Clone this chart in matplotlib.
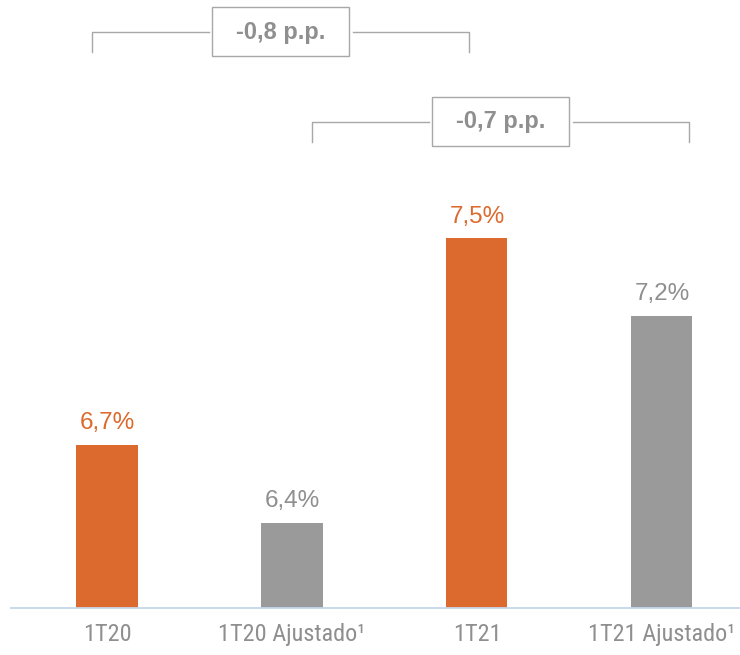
import matplotlib.pyplot as plt
from matplotlib.patches import Rectangle
from matplotlib import font_manager as fm

# data
categories = ['1T20', '1T20 Ajustado¹', '1T21', '1T21 Ajustado¹']
values = [6.7, 6.4, 7.5, 7.2]
value_labels = ['6,7%', '6,4%', '7,5%', '7,2%']

# comparison brackets: (label, x_left, x_right, y_top, y_bottom)
brackets = [
    ('-0,8 p.p.', -0.08, 1.957, 8.299, 8.222),
    ('-0,7 p.p.', 1.108, 3.146, 7.951, 7.873),
]

ORANGE = '#DC6A2E'
GRAY = '#9A9A9B'
TEXT_GRAY = '#8F8F8F'
BOX_GRAY = '#A8A8A8'
colors = [ORANGE, GRAY, ORANGE, GRAY]

# narrow font for the category labels, if one is installed
names = {f.name for f in fm.fontManager.ttflist}
narrow, tick_size = None, 15.5
for cand in ['Liberation Sans Narrow', 'Roboto Condensed', 'Open Sans Condensed',
             'DejaVu Sans Condensed']:
    if cand in names:
        narrow, tick_size = cand, 17.5
        break
if narrow is None:
    narrow = 'Liberation Sans'
plt.rcParams['font.family'] = ['Liberation Sans', 'DejaVu Sans']

fig = plt.figure(figsize=(7.4, 6.55), dpi=100)
ax = fig.add_axes([11 / 740, 1 - 608 / 655, 1 - 11 / 740, 608 / 655])

x = list(range(len(categories)))
ax.bar(x, values, width=0.33, color=colors, zorder=2)

ax.set_xlim(-0.519, 3.422)
ax.set_ylim(6.07, 8.423)

# value labels above bars
for xi, v, lab, c in zip(x, values, value_labels, colors):
    tc = ORANGE if c == ORANGE else TEXT_GRAY
    ax.annotate(lab, (xi, v), xytext=(0, 11.5), textcoords='offset points',
                ha='center', va='baseline', fontsize=17.5, color=tc)

# brackets with boxed difference labels
for label, xl, xr, yt, yb in brackets:
    xm = (xl + xr) / 2
    bw, bh = 0.741, 0.19
    ax.plot([xl, xl, xm - bw / 2 - 0.016], [yb, yt, yt], color=BOX_GRAY, lw=1.0, clip_on=False)
    ax.plot([xm + bw / 2 + 0.022, xr, xr], [yt, yt, yb], color=BOX_GRAY, lw=1.0, clip_on=False)
    ax.add_patch(Rectangle((xm - bw / 2, yt - bh * 0.49), bw, bh, fill=False,
                           edgecolor=BOX_GRAY, lw=1.0, clip_on=False))
    ax.text(xm, yt, label, ha='center', va='center', fontsize=17,
            fontweight='bold', color=TEXT_GRAY)

ax.set_xticks(x)
ax.set_xticklabels(categories, fontsize=tick_size, color=TEXT_GRAY,
                   family=[narrow, 'DejaVu Sans'])
ax.tick_params(axis='x', length=0, pad=11)
ax.set_yticks([])

for s in ['top', 'right', 'left']:
    ax.spines[s].set_visible(False)
ax.spines['bottom'].set_color('#C6D6EC')
ax.spines['bottom'].set_linewidth(1.3)
ax.set_facecolor('none')

fig.savefig('out.png', dpi=100, facecolor='white')
